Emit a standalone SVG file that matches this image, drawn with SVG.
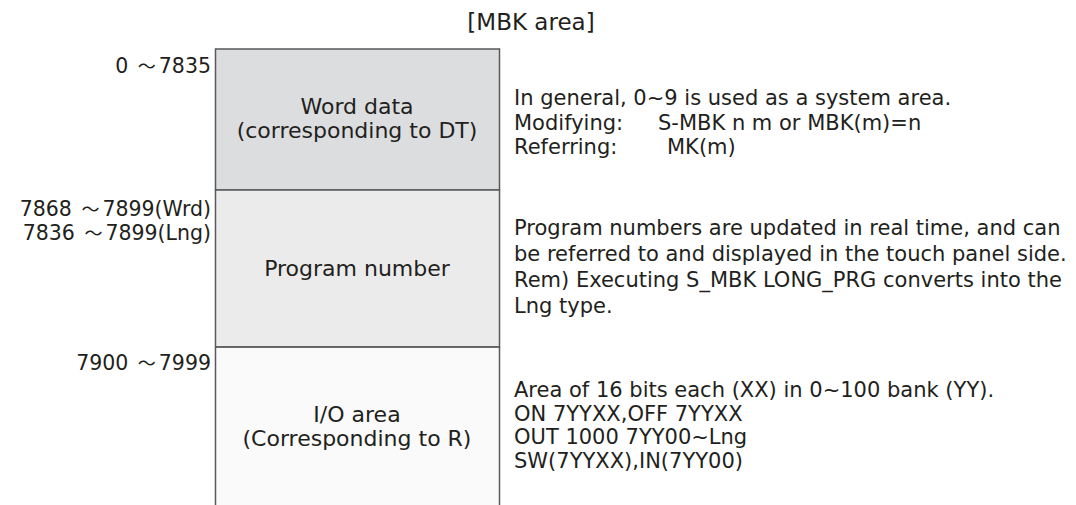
<svg xmlns="http://www.w3.org/2000/svg" width="1076" height="505" viewBox="0 0 1076 505">
<style>
text{font-family:"DejaVu Sans","Noto Sans CJK JP",sans-serif;fill:#231f20}
.t{font-size:22px;text-anchor:middle}
.h{font-size:23px;text-anchor:middle}
.l{font-size:20.5px;text-anchor:end}
.r{font-size:21px}
.w{font-family:"Noto Sans CJK JP",sans-serif;font-size:18px}
.box{stroke:#58595b;stroke-width:1.5}
</style>
<rect width="1076" height="505" fill="#fff"/>
<text x="531" y="30" class="h">[MBK area]</text>
<g id="word-data">
<rect x="215.5" y="49" width="284" height="141" fill="#dcdddf" class="box"/>
<text x="357" y="114" class="t">Word data</text>
<text x="357" y="138" class="t">(corresponding to DT)</text>
</g>
<g id="program-number">
<rect x="215.5" y="190" width="284" height="157" fill="#ebebec" class="box"/>
<text x="357" y="276" class="t">Program number</text>
</g>
<g id="io-area">
<rect x="216.25" y="347.75" width="282.5" height="157.25" fill="#fafafa"/>
<path d="M215.5 347 H499.5 M215.5 347 V505 M499.5 347 V505" class="box" fill="none"/>
<text x="357" y="422" class="t">I/O area</text>
<text x="357" y="446" class="t">(Corresponding to R)</text>
</g>
<g id="labels">
<text x="211" y="72.5" class="l">0 <tspan class="w" dx="3">～</tspan><tspan dx="3">7835</tspan></text>
<text x="211" y="216" class="l">7868 <tspan class="w" dx="3">～</tspan><tspan dx="3">7899(Wrd)</tspan></text>
<text x="211" y="240" class="l">7836 <tspan class="w" dx="3">～</tspan><tspan dx="3">7899(Lng)</tspan></text>
<text x="211" y="370" class="l">7900 <tspan class="w" dx="3">～</tspan><tspan dx="3">7999</tspan></text>
</g>
<g id="notes">
<text x="514" y="105" class="r">In general, 0~9 is used as a system area.</text>
<text x="514" y="129.5" class="r">Modifying:</text>
<text x="658" y="129.5" class="r">S-MBK n m or MBK(m)=n</text>
<text x="514" y="154" class="r">Referring:</text>
<text x="667" y="154" class="r">MK(m)</text>
<text x="514" y="235" class="r">Program numbers are updated in real time, and can</text>
<text x="514" y="261" class="r">be referred to and displayed in the touch panel side.</text>
<text x="514" y="287" class="r">Rem) Executing S_MBK LONG_PRG converts into the</text>
<text x="514" y="313" class="r">Lng type.</text>
<text x="514" y="397" class="r">Area of 16 bits each (XX) in 0~100 bank (YY).</text>
<text x="514" y="420.5" class="r">ON 7YYXX,OFF 7YYXX</text>
<text x="514" y="444" class="r">OUT 1000 7YY00~Lng</text>
<text x="514" y="467.5" class="r">SW(7YYXX),IN(7YY00)</text>
</g>
</svg>
